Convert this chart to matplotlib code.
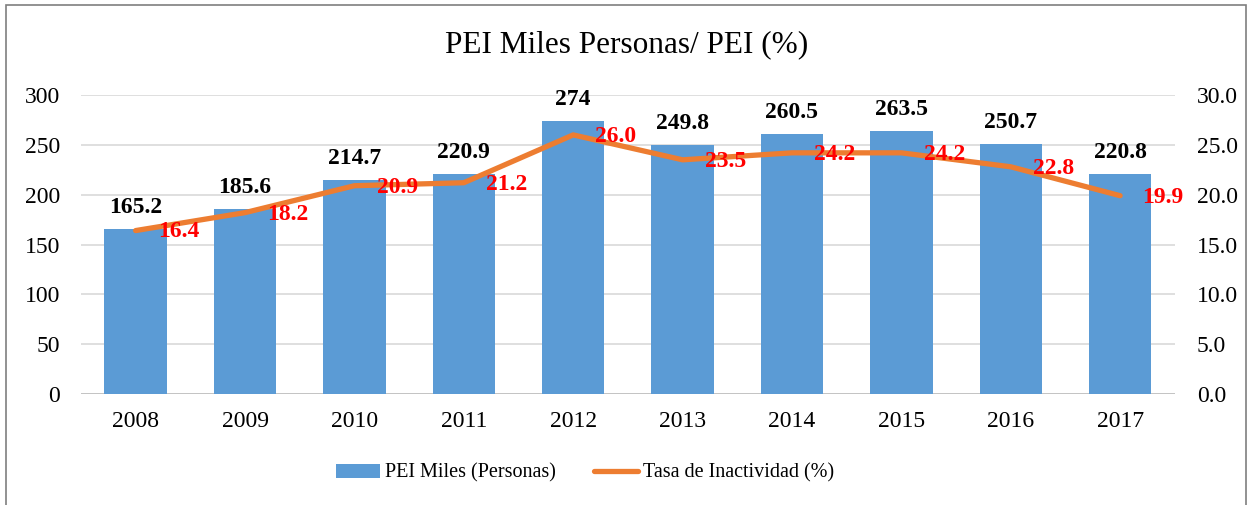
import matplotlib.pyplot as plt
from matplotlib.patches import Rectangle

plt.rcParams['font.family'] = ['Liberation Serif', 'DejaVu Serif']

years = ['2008', '2009', '2010', '2011', '2012', '2013', '2014', '2015', '2016', '2017']
pei = [165.2, 185.6, 214.7, 220.9, 274, 249.8, 260.5, 263.5, 250.7, 220.8]
pei_labels = ['165.2', '185.6', '214.7', '220.9', '274', '249.8', '260.5', '263.5', '250.7', '220.8']
tasa = [16.4, 18.2, 20.9, 21.2, 26.0, 23.5, 24.2, 24.2, 22.8, 19.9]

fig = plt.figure(figsize=(12.53, 5.05), dpi=100)
ax = fig.add_axes([0.0646, 0.2198, 0.873, 0.592])
ax2 = ax.twinx()

x = range(len(years))
bars = ax.bar(x, pei, width=0.57, color='#5B9BD5', zorder=2)
ln, = ax2.plot(x, tasa, color='#ED7D31', lw=3.8, solid_capstyle='round', zorder=3)

ax.set_xlim(-0.5, len(years) - 0.5)
ax.set_ylim(0, 300)
ax2.set_ylim(0, 30)
ax.set_yticks(range(0, 301, 50))
ax2.set_yticks(range(0, 31, 5))
ax2.set_yticklabels(['%.1f' % v for v in range(0, 31, 5)])
ax.set_xticks(list(x))
ax.set_xticklabels(years)

ax.grid(axis='y', color='#D9D9D9', lw=1.2, zorder=0)
ax.set_axisbelow(True)
for a in (ax, ax2):
    for s in ('top', 'left', 'right', 'bottom'):
        a.spines[s].set_visible(False)
    a.tick_params(length=0, labelsize=17)
ax.axhline(0, color='#BFBFBF', lw=1.2, zorder=1)
ax.tick_params(axis='x', pad=12)
ax.tick_params(axis='y', pad=15)
ax2.tick_params(axis='y', pad=16)

for i, (v, t) in enumerate(zip(pei, pei_labels)):
    ax.annotate(t, (i, v), xytext=(0, 8), textcoords='offset points',
                ha='center', va='bottom', fontsize=17, fontweight='bold', zorder=5)

for i, v in enumerate(tasa):
    ax2.annotate('%.1f' % v, (i, v), xytext=(16, -1), textcoords='offset points',
                 ha='left', va='center', fontsize=17, fontweight='bold',
                 color='#FF0000', zorder=6)

fig.text(0.5, 1 - 45 / 505, 'PEI Miles Personas/ PEI (%)', ha='center', va='center',
         fontsize=22.5)

fig.legend([bars, ln], ['PEI Miles (Personas)', 'Tasa de Inactividad (%)'],
           loc='center', bbox_to_anchor=(0.467, 0.063), ncol=2, frameon=False,
           fontsize=14.5, handlelength=2.2, columnspacing=1.9, handletextpad=0.25)

fig.patches.append(Rectangle((6 / 1253, -0.01), 1240 / 1253, 1 - 5 / 505 + 0.01,
                             transform=fig.transFigure, fill=False,
                             edgecolor='#7F7F7F', lw=1.2))

fig.savefig('out.png', dpi=100)
